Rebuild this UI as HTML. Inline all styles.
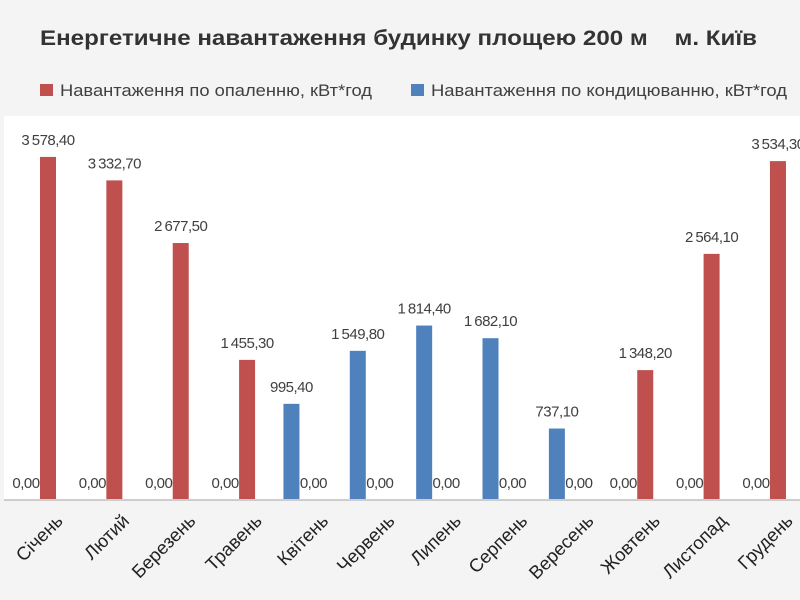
<!DOCTYPE html>
<html><head><meta charset="utf-8"><style>
html,body{margin:0;padding:0;background:#f4f4f4;}
svg{display:block;font-family:"Liberation Sans",sans-serif;}
</style></head><body>
<svg width="800" height="600" viewBox="0 0 800 600">
<rect width="800" height="600" fill="#f4f4f4"/>
<rect x="4" y="116" width="796" height="384" fill="#ffffff"/>
<text x="40" y="45" font-size="21" font-weight="bold" fill="#333" textLength="717" lengthAdjust="spacingAndGlyphs" xml:space="preserve">Енергетичне навантаження будинку площею 200 м    м. Київ</text>
<rect x="40" y="84" width="13" height="12" fill="#c0504d"/>
<text x="60" y="96" font-size="17" fill="#404040" textLength="312" lengthAdjust="spacingAndGlyphs">Навантаження по опаленню, кВт*год</text>
<rect x="411" y="84" width="13" height="12" fill="#4f81bd"/>
<text x="431" y="96" font-size="17" fill="#404040" textLength="356" lengthAdjust="spacingAndGlyphs">Навантаження по кондицюванню, кВт*год</text>
<line x1="4" y1="500" x2="800" y2="500" stroke="#bfbfbf" stroke-width="1.5"/>
<g id="bars"></g>
<g id="labels" font-size="15" fill="#404040" text-anchor="middle" letter-spacing="-0.5"></g>
<g id="months" font-size="18.5" fill="#222" text-anchor="end"></g>
</svg>
<script>
var months=["Січень","Лютий","Березень","Травень","Квітень","Червень","Липень","Серпень","Вересень","Жовтень","Листопад","Грудень"];
var heat=[3578.4,3332.7,2677.5,1455.3,0,0,0,0,0,1348.2,2564.1,3534.3];
var cool=[0,0,0,0,995.4,1549.8,1814.4,1682.1,737.1,0,0,0];
var ns="http://www.w3.org/2000/svg";
function el(t,a,p,txt){var e=document.createElementNS(ns,t);for(var k in a)e.setAttribute(k,a[k]);if(txt!==undefined)e.textContent=txt;document.getElementById(p).appendChild(e);}
function fmt(v){var s=v.toFixed(2).replace('.',',');var p=s.split(',');var i=p[0];if(i.length>3)i=i.slice(0,i.length-3)+'\u2009'+i.slice(-3);return i+','+p[1];}
var k=0.0956,base=499;
for(var i=0;i<12;i++){
 var rx=48+66.36*i, bx=rx-22;
 [[bx,cool[i],"#4f81bd"],[rx,heat[i],"#c0504d"]].forEach(function(s){
  var h=s[1]*k;
  if(h>0){el("rect",{x:s[0]-8,y:base-h,width:16,height:h,fill:s[2]},"bars");}
  el("text",{x:s[0],y:(h>0?base-h-12:base-11)},"labels",fmt(s[1]));
 });
 var cx=rx+16;
 el("text",{x:cx,y:522,transform:"rotate(-45 "+cx+" 522)"},"months",months[i]);
}
</script>
</body></html>
